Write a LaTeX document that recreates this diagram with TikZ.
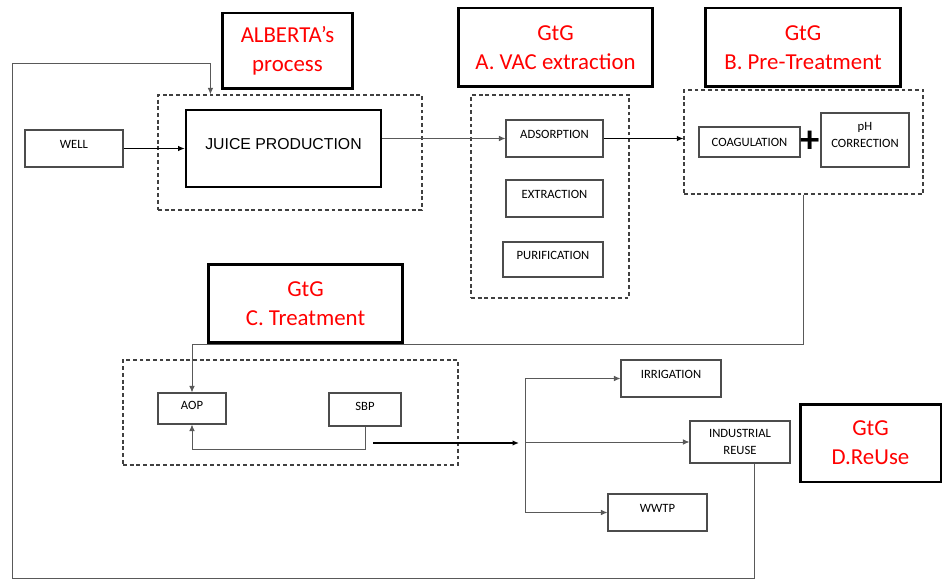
\documentclass[tikz,border=0pt]{standalone}
\usepackage{fontspec}
\setmainfont{Carlito}
\newfontfamily\arialfont{Liberation Sans}
\usetikzlibrary{arrows.meta,positioning,calc}
\tikzset{
  stepbox/.style={draw=black!70, line width=0.6pt, align=center, inner sep=1pt, font=\fontsize{7.2}{10}\selectfont},
  upper/.style={text depth=5pt},
  bigbox/.style={draw=black, line width=1.5pt, align=center, inner sep=2pt, font=\arialfont\fontsize{9}{11}\selectfont},
  titlebox/.style={draw=black, line width=1.7pt, align=center, inner sep=2pt, text=red, font=\fontsize{13}{16.5}\selectfont},
  groupbox/.style={draw=black!75, line width=0.7pt, dash pattern=on 2.2pt off 1.6pt, inner sep=0pt},
  arrow/.style={-{Latex[length=1.3mm,width=1.1mm]}, line width=0.6pt},
  thinarrow/.style={-{Latex[length=1.3mm,width=1.1mm]}, line width=0.5pt, draw=black!65},
  thickarrow/.style={-{Latex[length=1.3mm,width=1.1mm]}, line width=0.8pt}
}
\begin{document}
\begin{tikzpicture}[x=0.02cm, y=-0.02cm]
\useasboundingbox (0,0) rectangle (944,581);
% dashed groups
\node[groupbox, minimum width=5.28cm, minimum height=2.3cm] (albgrp) at (290,152.5) {};
\node[groupbox, minimum width=3.16cm, minimum height=4.06cm] (vacgrp) at (550,196.5) {};
\node[groupbox, minimum width=4.78cm, minimum height=2.08cm] (pregrp) at (803.5,142) {};
\node[groupbox, minimum width=6.7cm, minimum height=2.1cm] (trtgrp) at (290.5,412.5) {};
% titles
\node[titlebox, minimum width=2.62cm, minimum height=1.52cm] (talb) at (287.5,51) {ALBERTA’s\\process};
\node[titlebox, minimum width=3.9cm, minimum height=1.58cm] (tvac) at (555.5,47.5) {GtG\\A. VAC extraction};
\node[titlebox, minimum width=3.92cm, minimum height=1.58cm] (tpre) at (803,47.5) {GtG\\B. Pre-Treatment};
\node[titlebox, minimum width=3.9cm, minimum height=1.58cm] (ttrt) at (305.5,303.5) {GtG\\C. Treatment};
\node[titlebox, minimum width=2.82cm, minimum height=1.56cm] (treu) at (870.5,443) {GtG\\D.ReUse};
% steps
\node[stepbox, upper, minimum width=1.96cm, minimum height=0.74cm] (well) at (74,148.5) {WELL};
\node[bigbox, text depth=5.6pt, minimum width=3.9cm, minimum height=1.54cm] (juice) at (283.5,148.5) {JUICE PRODUCTION};
\node[stepbox, upper, minimum width=1.94cm, minimum height=0.74cm] (ads) at (554.5,138.5) {ADSORPTION};
\node[stepbox, upper, minimum width=1.94cm, minimum height=0.74cm] (ext) at (554.5,198.5) {EXTRACTION};
\node[stepbox, upper, minimum width=2.0cm, minimum height=0.7cm] (pur) at (553,259.5) {PURIFICATION};
\node[stepbox, minimum width=2.02cm, minimum height=0.6cm] (coag) at (749.5,142) {COAGULATION};
\node[stepbox, text depth=5.6pt, minimum width=1.76cm, minimum height=1.08cm] (ph) at (865,140) {pH\\CORRECTION};
\node[font=\fontsize{22}{22}\selectfont\bfseries, inner sep=0pt] (plus) at (810,142) {+};
\node[stepbox, text depth=3pt, minimum width=1.36cm, minimum height=0.62cm] (aop) at (192,408.5) {AOP};
\node[stepbox, text depth=3pt, minimum width=1.44cm, minimum height=0.66cm] (sbp) at (365,409.5) {SBP};
\node[stepbox, upper, minimum width=2.0cm, minimum height=0.74cm] (irr) at (671,378.5) {IRRIGATION};
\node[stepbox, minimum width=2.0cm, minimum height=0.84cm] (ind) at (740,442) {INDUSTRIAL\\REUSE};
\node[stepbox, upper, minimum width=1.98cm, minimum height=0.74cm] (wwtp) at (657.5,512.5) {WWTP};
% helper points
\coordinate (sbpout) at (373,443);
\coordinate (splitin) at (519,443);
\coordinate (split) at (525,443);
\coordinate (bl) at (12,578);
\coordinate (tl) at (12,63);
% flows
\draw[arrow] (well.east) -- (well.east -| juice.west);
\draw[thinarrow] (juice.east |- ads.west) -- (ads.west);
\draw[arrow] (ads.east) -- (ads.east -| pregrp.west);
\draw[thinarrow] (pregrp.south) -- ++(0,150) -| (aop.north);
\draw[thinarrow] (sbp.south) -- ++(0,23) -| (aop.south);
\draw[thickarrow] (sbpout) -- (splitin);
\draw[black!65, line width=0.5pt] (split |- irr.west) -- (split |- wwtp.west);
\draw[thinarrow] (split |- irr.west) -- (irr.west);
\draw[thinarrow] (split |- ind.west) -- (ind.west);
\draw[thinarrow] (split |- wwtp.west) -- (wwtp.west);
% recycle loop
\draw[thinarrow] ($(ind.south)+(14,0)$) |- (bl) -- (tl) -| ($(albgrp.north west)+(53,0)$);
\end{tikzpicture}
\end{document}
